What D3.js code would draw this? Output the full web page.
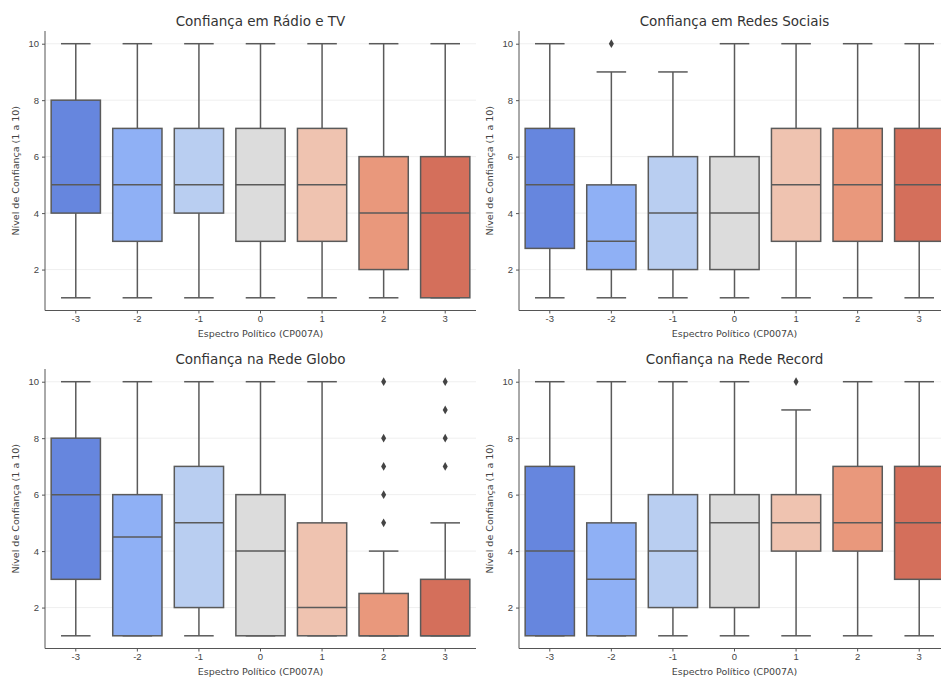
<!DOCTYPE html>
<html lang="pt">
<head>
<meta charset="UTF-8">
<title>Confiança na mídia por espectro político</title>
<script src="https://d3js.org/d3.v7.min.js"></script>
<style>
    body { margin: 0; background: #fff; }
    svg { display: block; font-family: "DejaVu Sans", sans-serif; }
    .tick text { fill: #444; font-size: 9.5px; }
    .title { fill: #333; font-size: 13.5px; }
    .axis-label { fill: #444; font-size: 9.5px; }
</style>
</head>
<body>
<div id="chart"></div>
<script>
// categories on the x axis (political spectrum)
const categories = ["-3", "-2", "-1", "0", "1", "2", "3"];
const yTicks = [2, 4, 6, 8, 10];
const palette = ["#6686de", "#8fb0f5", "#b9cef1", "#dcdcdc", "#efc3b0", "#e9987c", "#d46f5b"];

// box stats per category: [whisker low, q1, median, q3, whisker high]
const radioTV = [[1, 4, 5, 8, 10], [1, 3, 5, 7, 10], [1, 4, 5, 7, 10], [1, 3, 5, 7, 10],
                 [1, 3, 5, 7, 10], [1, 2, 4, 6, 10], [1, 1, 4, 6, 10]];
const redesSociais = [[1, 2.75, 5, 7, 10], [1, 2, 3, 5, 9], [1, 2, 4, 6, 9], [1, 2, 4, 6, 10],
                      [1, 3, 5, 7, 10], [1, 3, 5, 7, 10], [1, 3, 5, 7, 10]];
const redeGlobo = [[1, 3, 6, 8, 10], [1, 1, 4.5, 6, 10], [1, 2, 5, 7, 10], [1, 1, 4, 6, 10],
                   [1, 1, 2, 5, 10], [1, 1, 1, 2.5, 4], [1, 1, 1, 3, 5]];
const redeRecord = [[1, 1, 4, 7, 10], [1, 1, 3, 5, 10], [1, 2, 4, 6, 10], [1, 2, 5, 6, 10],
                    [1, 4, 5, 6, 9], [1, 4, 5, 7, 10], [1, 3, 5, 7, 10]];

// outlier points per category
const radioTVOut = [[], [], [], [], [], [], []];
const redesSociaisOut = [[], [10], [], [], [], [], []];
const redeGloboOut = [[], [], [], [], [], [5, 6, 7, 8, 10], [7, 8, 9, 10]];
const redeRecordOut = [[], [], [], [], [10], [], []];

const panels = [
    {title: "Confiança em Rádio e TV", stats: radioTV, out: radioTVOut, x0: 45, y0: 31},
    {title: "Confiança em Redes Sociais", stats: redesSociais, out: redesSociaisOut, x0: 519, y0: 31},
    {title: "Confiança na Rede Globo", stats: redeGlobo, out: redeGloboOut, x0: 45, y0: 369},
    {title: "Confiança na Rede Record", stats: redeRecord, out: redeRecordOut, x0: 519, y0: 369}
];

const W = 941, H = 680;
const plotW = 431, plotH = 279.5;
const lineColor = "#5a5a5a";

const svg = d3.select("#chart").append("svg")
    .attr("width", W)
    .attr("height", H);

panels.forEach(p => {
    const g = svg.append("g").attr("transform", `translate(${p.x0},${p.y0})`);

    const x = d3.scaleBand().domain(categories).range([0, plotW]).paddingInner(0.2).paddingOuter(0.1);
    const y = d3.scaleLinear().domain([0.55, 10.45]).range([plotH, 0]);
    const bw = x.bandwidth();
    const capW = bw * 0.6;

    // horizontal grid
    g.selectAll("line.grid").data(yTicks).enter().append("line")
        .attr("class", "grid")
        .attr("x1", 0).attr("x2", plotW)
        .attr("y1", d => y(d)).attr("y2", d => y(d))
        .attr("stroke", "#ebebeb").attr("stroke-width", 0.8);

    // axes
    const yAxis = g.append("g").call(d3.axisLeft(y).tickValues(yTicks).tickSize(3).tickPadding(3));
    const xAxis = g.append("g").attr("transform", `translate(0,${plotH})`)
        .call(d3.axisBottom(x).tickSize(3).tickPadding(2));
    [yAxis, xAxis].forEach(a => {
        a.select(".domain").attr("stroke", "#555").attr("stroke-width", 1);
        a.selectAll(".tick line").attr("stroke", "#555");
    });
    xAxis.select(".domain").attr("d", `M0,0H${plotW}`);
    yAxis.select(".domain").attr("d", `M0,${plotH}V0`);

    const boxes = g.selectAll("g.box").data(p.stats).enter().append("g")
        .attr("class", "box")
        .attr("transform", (d, i) => `translate(${x(categories[i]) + bw / 2},0)`);

    // whiskers
    boxes.append("line")
        .attr("x1", 0).attr("x2", 0)
        .attr("y1", d => y(d[3])).attr("y2", d => y(d[4]))
        .attr("stroke", lineColor).attr("stroke-width", 1.5);
    boxes.append("line")
        .attr("x1", 0).attr("x2", 0)
        .attr("y1", d => y(d[0])).attr("y2", d => y(d[1]))
        .attr("stroke", lineColor).attr("stroke-width", 1.5);
    // caps
    boxes.append("line")
        .attr("x1", -capW / 2).attr("x2", capW / 2)
        .attr("y1", d => y(d[4])).attr("y2", d => y(d[4]))
        .attr("stroke", lineColor).attr("stroke-width", 1.5);
    boxes.append("line")
        .attr("x1", -capW / 2).attr("x2", capW / 2)
        .attr("y1", d => y(d[0])).attr("y2", d => y(d[0]))
        .attr("stroke", lineColor).attr("stroke-width", 1.5);
    // box
    boxes.append("rect")
        .attr("x", -bw / 2).attr("width", bw)
        .attr("y", d => y(d[3]))
        .attr("height", d => y(d[1]) - y(d[3]))
        .attr("fill", (d, i) => palette[i])
        .attr("stroke", lineColor).attr("stroke-width", 1.5);
    // median
    boxes.append("line")
        .attr("x1", -bw / 2).attr("x2", bw / 2)
        .attr("y1", d => y(d[2])).attr("y2", d => y(d[2]))
        .attr("stroke", lineColor).attr("stroke-width", 1.5);

    // outliers
    p.out.forEach((vals, i) => {
        g.selectAll(null).data(vals).enter().append("path")
            .attr("d", d3.symbol(d3.symbolDiamond, 22))
            .attr("transform", d => `translate(${x(categories[i]) + bw / 2},${y(d)})`)
            .attr("fill", "#444");
    });

    // labels
    g.append("text").attr("class", "title")
        .attr("x", plotW / 2).attr("y", -5)
        .attr("text-anchor", "middle")
        .text(p.title);
    g.append("text").attr("class", "axis-label")
        .attr("x", plotW / 2).attr("y", plotH + 26)
        .attr("text-anchor", "middle")
        .text("Espectro Político (CP007A)");
    g.append("text").attr("class", "axis-label")
        .attr("transform", `translate(-26,${plotH / 2}) rotate(-90)`)
        .attr("text-anchor", "middle")
        .text("Nível de Confiança (1 a 10)");
});
</script>
</body>
</html>
